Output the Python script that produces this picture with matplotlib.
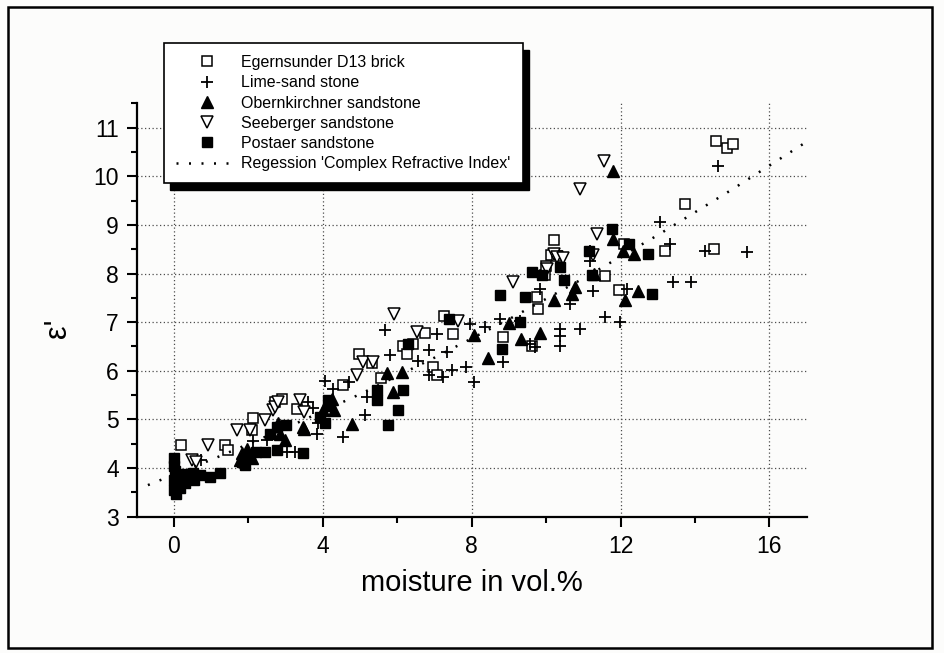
import numpy as np
import matplotlib.pyplot as plt
from matplotlib.lines import Line2D
from matplotlib.patches import Rectangle
from matplotlib.ticker import MultipleLocator

plt.rcParams['font.family'] = ['Liberation Sans', 'DejaVu Sans']

# dielectric constant vs. moisture for five building materials
brick_x = [0.2, 1.37, 1.45, 2.12, 2.11, 2.72, 2.9, 3.3, 4.55, 4.96, 5.31, 5.57, 6.15, 6.26,
           6.43, 6.75, 6.97, 7.06, 7.26, 7.51, 8.85, 9.61, 9.75, 9.77, 9.97, 10.0, 10.13,
           10.22, 10.29, 11.59, 11.97, 12.08, 13.2, 13.74, 14.5, 14.57, 14.86, 15.02]
brick_y = [4.47, 4.48, 4.38, 5.02, 4.78, 5.36, 5.43, 5.22, 5.70, 6.35, 6.17, 5.85, 6.50, 6.35,
           6.56, 6.77, 6.08, 5.91, 7.12, 6.76, 6.69, 6.52, 7.51, 7.27, 7.97, 8.15, 8.39,
           8.69, 8.37, 7.94, 7.66, 8.61, 8.46, 9.43, 8.51, 10.73, 10.59, 10.66]

lime_x = [0.74, 2.12, 2.49, 3.03, 3.25, 3.61, 3.74, 3.84, 3.88, 4.06, 4.28, 4.55, 4.69, 5.13,
          5.18, 5.67, 5.81, 6.57, 6.84, 6.84, 7.06, 7.24, 7.33, 7.46, 7.86, 7.96, 8.05, 8.36,
          8.76, 8.85, 9.3, 9.57, 9.7, 9.84, 10.38, 10.38, 10.38, 10.63, 10.91, 11.18, 11.18,
          11.27, 11.59, 11.99, 12.17, 13.05, 13.33, 13.4, 13.89, 14.27, 14.63, 15.39]
lime_y = [4.16, 4.55, 4.57, 4.33, 4.33, 5.36, 5.24, 4.71, 4.92, 5.80, 5.63, 4.64, 5.77, 5.09,
          5.46, 6.83, 6.32, 6.21, 6.42, 5.91, 6.76, 5.87, 6.38, 6.01, 6.08, 6.97, 5.77, 6.90,
          7.07, 6.18, 7.03, 6.56, 6.49, 7.68, 6.86, 6.71, 6.52, 7.38, 6.86, 8.47, 8.26,
          7.65, 7.10, 7.00, 7.68, 9.05, 8.61, 7.82, 7.82, 8.47, 10.21, 8.44]

obern_x = [1.77, 1.82, 1.95, 2.1, 2.8, 2.85, 2.98, 3.48, 3.5, 4.01, 4.1, 4.24, 4.3, 4.78, 5.73,
           5.89, 6.13, 8.05, 8.43, 9.0, 9.32, 9.84, 10.2, 10.69, 10.78, 11.29, 11.79, 11.8,
           12.07, 12.12, 12.35, 12.48]
obern_y = [4.16, 4.30, 4.40, 4.20, 4.92, 4.71, 4.57, 4.85, 4.80, 5.19, 5.33, 5.43, 5.19, 4.91,
           5.96, 5.56, 5.97, 6.73, 6.26, 6.98, 6.66, 6.77, 7.45, 7.58, 7.72, 8.00, 10.11, 8.71,
           8.47, 7.45, 8.40, 7.65]

seeb_x = [0.48, 0.6, 0.92, 1.69, 2.03, 2.45, 2.67, 2.72, 2.8, 3.39, 3.5, 4.91, 5.09, 5.36,
          5.9, 6.53, 7.62, 9.12, 10.02, 10.21, 10.29, 10.45, 10.91, 11.26, 11.36, 11.56]
seeb_y = [4.16, 4.12, 4.47, 4.79, 4.79, 4.98, 5.19, 5.26, 5.36, 5.39, 5.15, 5.91, 6.18, 6.18,
          7.17, 6.80, 7.03, 7.82, 8.09, 8.41, 8.33, 8.32, 9.74, 8.39, 8.81, 10.32]

post_x = [0.0, 0.0, 0.02, 0.05, 0.0, 0.03, 0.0, 0.05, 0.15, 0.2, 0.25, 0.3, 0.4, 0.5, 0.55,
          0.7, 0.97, 1.24, 1.82, 1.92, 2.04, 2.2, 2.45, 2.58, 2.76, 2.76, 3.01, 3.47, 3.92,
          4.06, 4.15, 4.19, 5.45, 5.45, 5.76, 6.03, 6.16, 6.3, 7.38, 8.76, 8.81, 9.3, 9.44,
          9.62, 9.88, 10.38, 10.47, 11.14, 11.23, 11.77, 12.22, 12.75, 12.84]
post_y = [4.20, 4.05, 3.95, 3.85, 3.75, 3.65, 3.55, 3.47, 3.60, 3.75, 3.88, 3.70, 3.80, 3.90,
          3.75, 3.85, 3.82, 3.89, 4.13, 4.06, 4.27, 4.33, 4.33, 4.71, 4.37, 4.85, 4.89, 4.30,
          5.05, 4.93, 5.39, 5.27, 5.60, 5.39, 4.88, 5.19, 5.60, 6.56, 7.07, 7.55, 6.45, 7.00,
          7.51, 8.03, 7.96, 8.13, 7.86, 8.47, 7.96, 8.92, 8.61, 8.40, 7.58]

# regression curve 'Complex Refractive Index'
reg_x = [-0.7, 1, 3, 5, 7, 9, 11, 13, 15, 17]
reg_y = [3.65, 4.17, 4.82, 5.52, 6.27, 7.06, 7.90, 8.79, 9.73, 10.71]

fig = plt.figure(figsize=(9.45, 6.53), dpi=100, facecolor='#fcfcfb')
ax = fig.add_axes([0.1447, 0.2087, 0.7089, 0.6331])
ax.set_facecolor('none')

ms = 7
ax.plot(brick_x, brick_y, ls='none', marker='s', ms=ms, mfc='white', mec='black', mew=1.1)
ax.plot(lime_x, lime_y, ls='none', marker='+', ms=ms + 2, color='black', mew=1.3)
ax.plot(obern_x, obern_y, ls='none', marker='^', ms=ms + 1, color='black')
ax.plot(seeb_x, seeb_y, ls='none', marker='v', ms=ms + 1, mfc='white', mec='black', mew=1.1)
ax.plot(post_x, post_y, ls='none', marker='s', ms=ms, color='black')
ax.plot(reg_x, reg_y, color='black', lw=1.8, ls=(0, (0.8, 4.2)))

ax.set_xlim(-1, 17)
ax.set_ylim(3, 11.5)
ax.xaxis.set_major_locator(MultipleLocator(4))
ax.xaxis.set_minor_locator(MultipleLocator(2))
ax.yaxis.set_major_locator(MultipleLocator(1))
ax.yaxis.set_minor_locator(MultipleLocator(0.5))
ax.tick_params(which='major', direction='out', length=7, width=1.5, labelsize=16.5, pad=6)
ax.tick_params(which='minor', direction='out', length=4, width=1.5)
ax.grid(True, which='major', color='0.3', lw=0.9, ls=(0, (1, 2)))
for side in ['top', 'right']:
    ax.spines[side].set_visible(False)
for side in ['left', 'bottom']:
    ax.spines[side].set_linewidth(1.6)

ax.set_xlabel('moisture in vol.%', fontsize=21, va='center')
ax.xaxis.set_label_coords(0.5, -0.16)
ax.set_ylabel("ε'", fontsize=22, va='center')
ax.yaxis.set_label_coords(-0.117, 0.456)

handles = [
    Line2D([], [], ls='none', marker='s', ms=ms, mfc='white', mec='black', mew=1.1),
    Line2D([], [], ls='none', marker='+', ms=ms + 2, color='black', mew=1.3),
    Line2D([], [], ls='none', marker='^', ms=ms + 1, color='black'),
    Line2D([], [], ls='none', marker='v', ms=ms + 1, mfc='white', mec='black', mew=1.1),
    Line2D([], [], ls='none', marker='s', ms=ms, color='black'),
    Line2D([], [], color='black', lw=1.8, ls=(0, (0.8, 4.2))),
]
labels = ['Egernsunder D13 brick', 'Lime-sand stone', 'Obernkirchner sandstone',
          'Seeberger sandstone', 'Postaer sandstone', "Regession 'Complex Refractive Index'"]
leg = fig.legend(handles, labels, loc='upper left', bbox_to_anchor=(164 / 945, 1 - 43 / 653),
                 frameon=True, fancybox=False, edgecolor='black', framealpha=1, fontsize=11.5,
                 borderpad=0.75, labelspacing=0.33, handlelength=3.9, handletextpad=0.2,
                 numpoints=1, borderaxespad=0)
leg.get_frame().set_linewidth(1.2)
leg.set_zorder(6)

# drop shadow behind the legend box
fig.canvas.draw()
bb = leg.get_window_extent().transformed(fig.transFigure.inverted())
dx, dy = 6 / 945, 7 / 653
fig.add_artist(Rectangle((bb.x0 + dx, bb.y0 - dy), bb.width, bb.height,
                         transform=fig.transFigure, color='black', zorder=5))

# frame around the whole figure
fig.add_artist(Rectangle((8 / 945, 5 / 653), 924 / 945, 641 / 653, transform=fig.transFigure,
                         fill=False, lw=1.8, edgecolor='black'))

fig.savefig('out.png', dpi=100, facecolor=fig.get_facecolor())
